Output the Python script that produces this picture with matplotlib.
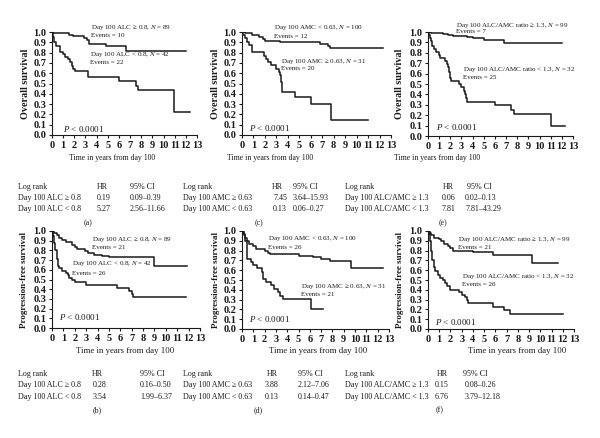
import matplotlib
matplotlib.use("Agg")
import matplotlib.pyplot as plt
import numpy as np

plt.rcParams['font.family'] = ['Liberation Serif', 'DejaVu Serif']
plt.rcParams['mathtext.fontset'] = 'custom'
plt.rcParams['mathtext.rm'] = 'Liberation Serif'
plt.rcParams['mathtext.it'] = 'Liberation Serif:italic'

# ---------------- data ----------------
# (a) overall survival by ALC
a_hi_t = [0, 0.1, 1.5, 1.9, 2.9, 3.1, 3.3, 4.8, 6.6, 12.0]
a_hi_s = [1.0, 0.99, 0.97, 0.96, 0.94, 0.92, 0.88, 0.86, 0.82, 0.82]
a_lo_t = [0, 0.1, 0.2, 0.4, 0.7, 1.0, 1.2, 1.4, 1.6, 1.8, 1.9, 2.1, 3.2, 6.0, 7.5, 7.7, 10.9, 12.4]
a_lo_s = [1.0, 0.95, 0.90, 0.86, 0.81, 0.79, 0.76, 0.74, 0.71, 0.67, 0.64, 0.62, 0.56, 0.52, 0.48, 0.44, 0.22, 0.22]
# (c) overall survival by AMC
c_lo_t = [0, 0.3, 0.9, 1.5, 1.8, 2.0, 3.3, 6.8, 7.5, 7.7, 12.3]
c_lo_s = [1.0, 0.99, 0.97, 0.95, 0.93, 0.91, 0.90, 0.88, 0.86, 0.84, 0.84]
c_hi_t = [0, 0.1, 0.25, 0.4, 0.6, 0.9, 1.9, 2.1, 2.3, 2.5, 3.0, 3.2, 3.3, 3.4, 3.5, 4.6, 6.0, 7.8, 11.0]
c_hi_s = [1.0, 0.97, 0.94, 0.90, 0.87, 0.81, 0.77, 0.74, 0.71, 0.68, 0.64, 0.61, 0.58, 0.51, 0.42, 0.37, 0.30, 0.15, 0.15]
# (e) overall survival by ALC/AMC ratio
e_hi_t = [0, 0.3, 1.3, 1.8, 2.2, 3.5, 4.0, 5.0, 6.8, 12.0]
e_hi_s = [1.0, 0.99, 0.98, 0.97, 0.96, 0.95, 0.94, 0.92, 0.89, 0.89]
e_lo_t = [0, 0.1, 0.2, 0.3, 0.4, 0.5, 0.7, 1.0, 1.1, 1.5, 1.7, 1.8, 1.9, 2.0, 2.1, 2.8, 3.0, 3.2, 3.3, 3.4, 3.5, 6.0, 7.4, 7.7, 11.0, 12.3]
e_lo_s = [1.0, 0.97, 0.94, 0.91, 0.87, 0.84, 0.81, 0.78, 0.75, 0.72, 0.69, 0.66, 0.62, 0.56, 0.53, 0.50, 0.47, 0.43, 0.40, 0.37, 0.33, 0.30, 0.25, 0.21, 0.10, 0.10]
# (b) progression-free survival by ALC
b_hi_t = [0, 0.2, 0.4, 0.6, 0.9, 1.2, 1.8, 2.0, 2.2, 2.9, 3.2, 3.7, 4.4, 5.0, 9.0, 11.9]
b_hi_s = [1.0, 0.98, 0.96, 0.93, 0.91, 0.89, 0.86, 0.83, 0.81, 0.79, 0.77, 0.75, 0.74, 0.73, 0.64, 0.64]
b_lo_t = [0, 0.1, 0.2, 0.3, 0.4, 0.5, 0.6, 0.9, 1.2, 1.4, 1.5, 1.8, 2.0, 3.0, 5.7, 6.8, 7.0, 7.1, 11.8]
b_lo_s = [1.0, 0.95, 0.88, 0.80, 0.71, 0.64, 0.62, 0.59, 0.57, 0.55, 0.52, 0.49, 0.47, 0.44, 0.41, 0.38, 0.35, 0.32, 0.32]
# (d) progression-free survival by AMC
d_lo_t = [0, 0.1, 0.2, 0.3, 0.4, 0.6, 1.0, 1.2, 2.0, 2.3, 2.5, 5.0, 5.5, 6.3, 7.0, 7.8, 9.6, 12.5]
d_lo_s = [1.0, 0.98, 0.96, 0.93, 0.90, 0.87, 0.85, 0.82, 0.80, 0.78, 0.77, 0.75, 0.74, 0.73, 0.71, 0.69, 0.62, 0.62]
d_hi_t = [0, 0.2, 0.3, 0.4, 0.8, 1.0, 1.3, 1.8, 1.9, 2.1, 2.6, 2.8, 3.2, 3.4, 3.6, 6.1, 7.2]
d_hi_s = [1.0, 0.97, 0.90, 0.71, 0.68, 0.65, 0.62, 0.58, 0.51, 0.48, 0.45, 0.41, 0.38, 0.34, 0.31, 0.20, 0.20]
# (f) progression-free survival by ALC/AMC ratio
f_hi_t = [0, 0.2, 0.3, 0.5, 1.0, 1.2, 1.4, 1.8, 2.0, 2.2, 4.0, 5.8, 9.3, 11.6]
f_hi_s = [1.0, 0.98, 0.96, 0.93, 0.92, 0.90, 0.87, 0.85, 0.83, 0.80, 0.79, 0.76, 0.67, 0.67]
f_lo_t = [0, 0.1, 0.2, 0.3, 0.4, 0.5, 0.6, 0.9, 1.1, 1.3, 1.5, 1.7, 2.0, 2.8, 3.0, 3.3, 3.5, 3.6, 5.8, 6.8, 7.3, 12.0]
f_lo_s = [1.0, 0.97, 0.90, 0.80, 0.70, 0.63, 0.59, 0.55, 0.52, 0.50, 0.47, 0.44, 0.40, 0.38, 0.35, 0.33, 0.30, 0.27, 0.22, 0.19, 0.15, 0.15]

x_ticks = list(range(0, 14))
y_ticks = [0.0, 0.1, 0.2, 0.3, 0.4, 0.5, 0.6, 0.7, 0.8, 0.9, 1.0]
y_tick_labels = ["0.0", "0.1", "0.2", "0.3", "0.4", "0.5", "0.6", "0.7", "0.8", "0.9", "1.0"]
x_label = "Time in years from day 100"
p_text = "$P$ < 0.0001"

table_header = ["Log rank", "HR", "95% CI"]
tab_a = [["Day 100 ALC ≥ 0.8", "0.19", "0.09–0.39"], ["Day 100 ALC < 0.8", "5.27", "2.56–11.66"]]
tab_c = [["Day 100 AMC ≥ 0.63", "7.45", "3.64–15.93"], ["Day 100 AMC < 0.63", "0.13", "0.06–0.27"]]
tab_e = [["Day 100 ALC/AMC ≥ 1.3", "0.06", "0.02–0.13"], ["Day 100 ALC/AMC < 1.3", "7.81", "7.81–43.29"]]
tab_b = [["Day 100 ALC ≥ 0.8", "0.28", "0.16–0.50"], ["Day 100 ALC < 0.8", "3.54", "1.99–6.37"]]
tab_d = [["Day 100 AMC ≥ 0.63", "3.88", "2.12–7.06"], ["Day 100 AMC < 0.63", "0.13", "0.14–0.47"]]
tab_f = [["Day 100 ALC/AMC ≥ 1.3", "0.15", "0.08–0.26"], ["Day 100 ALC/AMC < 1.3", "6.76", "3.79–12.18"]]

W, H = 600, 438
INK = '#1a1a1a'
fig = plt.figure(figsize=(W / 100, H / 100), dpi=100)


def add_ax(x0, x1, top, bot):
    return fig.add_axes([x0 / W, (H - bot) / H, (x1 - x0) / W, (bot - top) / H])


def ftext(x, y, s, **kw):
    fig.text(x / W, (H - y) / H, s, **kw)


def panel(box, curves, ylabel, ylab_x, annots, pxy, ylab_size):
    x0, x1, top, bot = box
    ax = add_ax(x0, x1, top, bot)
    for t, s in curves:
        ax.step(t, s, where='post', color=INK, lw=1.1)
    ax.set_xlim(0, 13)
    ax.set_ylim(0, 1.0)
    ax.set_xticks(x_ticks)
    ax.set_yticks(y_ticks)
    ax.set_yticklabels(y_tick_labels)
    for sp in ['top', 'right']:
        ax.spines[sp].set_visible(False)
    for sp in ['left', 'bottom']:
        ax.spines[sp].set_linewidth(0.8)
        ax.spines[sp].set_color(INK)
    ax.tick_params(direction='out', length=2.5, width=0.8, labelsize=7.5, pad=1.5, colors=INK)
    for lab in ax.get_xticklabels() + ax.get_yticklabels():
        lab.set_fontweight('bold')
    ax.patch.set_alpha(0)
    ftext(ylab_x, (top + bot) / 2, ylabel, rotation=90, ha='center', va='center',
          fontsize=ylab_size, fontweight='bold', color=INK)
    for (tx, ty, s) in annots:
        ax.text(tx, ty, s, fontsize=5, ha='left', va='center', color=INK)
    ax.text(pxy[0], pxy[1], p_text, fontsize=6.5, ha='left', va='center', color=INK)
    return ax


# top row: overall survival
panel((52, 197, 32, 135), [(a_hi_t, a_hi_s), (a_lo_t, a_lo_s)], "Overall survival", 25,
      [(3.5, 1.045, "Day 100 ALC ≥ 0.8, $N$ = 89"), (3.5, 0.965, "Events = 10"),
       (3.45, 0.785, "Day 100 ALC < 0.8, $N$ = 42"), (3.45, 0.705, "Events = 22")],
      (1.0, 0.06), 7.3)
panel((242, 391, 32, 135), [(c_lo_t, c_lo_s), (c_hi_t, c_hi_s)], "Overall survival", 216,
      [(2.75, 1.045, "Day 100 AMC < 0.63, $N$ = 100"), (2.75, 0.955, "Events = 12"),
       (3.4, 0.72, "Day 100 AMC ≥ 0.63, $N$ = 31"), (3.4, 0.65, "Events = 20")],
      (0.65, 0.07), 7.3)
panel((428, 573, 32, 136), [(e_hi_t, e_hi_s), (e_lo_t, e_lo_s)], "Overall survival", 400,
      [(2.5, 1.07, "Day 100 ALC/AMC ratio ≥ 1.3, $N$ = 99"), (2.5, 1.005, "Events = 7"),
       (3.1, 0.635, "Day 100 ALC/AMC ratio < 1.3, $N$ = 32"), (3.1, 0.565, "Events = 25")],
      (0.75, 0.09), 7.3)
# bottom row: progression-free survival
panel((52, 200, 231, 328), [(b_hi_t, b_hi_s), (b_lo_t, b_lo_s)], "Progression-free survival", 24,
      [(3.5, 0.92, "Day 100 ALC ≥ 0.8, $N$ = 89"), (3.5, 0.83, "Events = 21"),
       (1.75, 0.66, "Day 100 ALC < 0.8, $N$ = 42"), (1.75, 0.565, "Events = 26")],
      (0.6, 0.11), 6.5)
panel((242, 389, 231, 329), [(d_lo_t, d_lo_s), (d_hi_t, d_hi_s)], "Progression-free survival", 216,
      [(2.3, 0.92, "Day 100 AMC < 0.63, $N$ = 100"), (2.3, 0.83, "Events = 26"),
       (5.2, 0.44, "Day 100 AMC ≥ 0.63, $N$ = 31"), (5.2, 0.35, "Events = 21")],
      (0.65, 0.10), 6.5)
panel((428, 574, 231, 329), [(f_hi_t, f_hi_s), (f_lo_t, f_lo_s)], "Progression-free survival", 400,
      [(2.7, 0.92, "Day 100 ALC/AMC ratio ≥ 1.3, $N$ = 99"), (2.7, 0.83, "Events = 21"),
       (3.0, 0.535, "Day 100 ALC/AMC ratio < 1.3, $N$ = 32"), (3.0, 0.45, "Events = 26")],
      (0.6, 0.075), 6.5)

# x labels
for cx in [112, 270, 437]:
    ftext(cx, 158, x_label, ha='center', va='center', fontsize=5.6, color=INK)
for cx in [125, 318, 517]:
    ftext(cx, 351, x_label, ha='center', va='center', fontsize=6.3, color=INK)

TFS = 5.8


def table(rows, xs_head, xs_val, ys, label, label_xy):
    for x, s in zip(xs_head, table_header):
        ftext(x, ys[0], s, ha='left', va='center', fontsize=TFS, color=INK)
    for r, y in zip(rows, ys[1:]):
        for k in range(3):
            ftext(xs_val[k], y, r[k], ha='left', va='center', fontsize=TFS, color=INK)
    ftext(label_xy[0], label_xy[1], label, ha='center', va='center', fontsize=TFS, color=INK)


top_ys = [187, 198, 209]
bot_ys = [374, 385, 397]
table(tab_a, [18, 97, 130], [18, 97, 130], top_ys, "(a)", (88, 223))
table(tab_c, [183, 272, 293], [183, 273, 293], top_ys, "(c)", (259, 223))
table(tab_e, [345, 443, 467], [345, 442, 465], top_ys, "(e)", (443, 223))
table(tab_b, [18, 92, 140], [18, 93, 140], bot_ys, "(b)", (97, 410))
table(tab_d, [183, 267, 298], [183, 265, 298], bot_ys, "(d)", (258, 410))
table(tab_f, [345, 437, 463], [345, 435, 465], bot_ys, "(f)", (440, 410))

fig.savefig("out.png", dpi=100, facecolor='white')
